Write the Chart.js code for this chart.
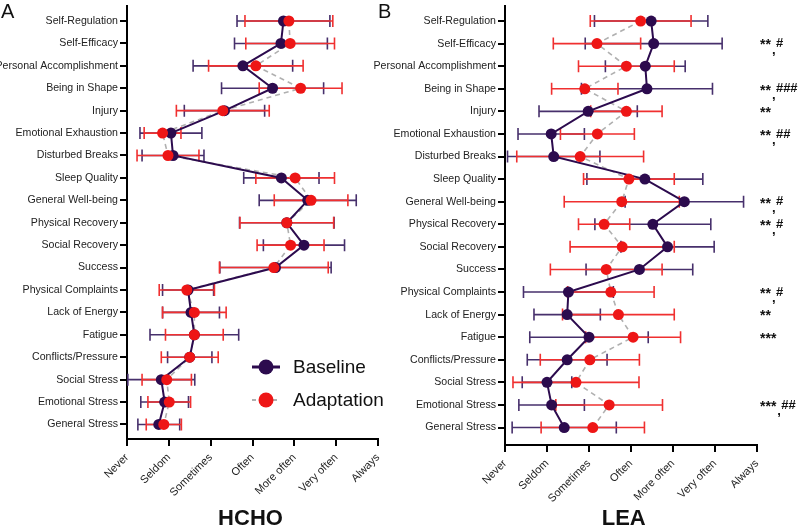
<!DOCTYPE html>
<html><head><meta charset="utf-8">
<script src="https://cdn.jsdelivr.net/npm/chart.js@4.4.1/dist/chart.umd.min.js"></script>
<style>
html,body{margin:0;padding:0;background:#fff;}
#wrap{position:relative;width:800px;height:528px;overflow:hidden;background:#fff;}
#cA{position:absolute;left:0;top:0;}
#cB{position:absolute;left:370px;top:0;}
</style></head><body>
<div id="wrap"><canvas id="cA" width="400" height="528"></canvas><canvas id="cB" width="430" height="528"></canvas></div>
<script>
// ---- data ----
const categories = ["Self-Regulation","Self-Efficacy","Personal Accomplishment","Being in Shape","Injury","Emotional Exhaustion","Disturbed Breaks","Sleep Quality","General Well-being","Physical Recovery","Social Recovery","Success","Physical Complaints","Lack of Energy","Fatigue","Conflicts/Pressure","Social Stress","Emotional Stress","General Stress"];
const frequencyLabels = ["Never","Seldom","Sometimes","Often","More often","Very often","Always"];

const hchoBaselineMean = [3.74,3.68,2.77,3.48,2.33,1.05,1.10,3.69,4.32,3.82,4.23,3.55,1.46,1.53,1.61,1.50,0.82,0.90,0.76];
const hchoBaselineSD   = [1.11,1.11,1.19,1.22,0.96,0.74,0.74,0.90,1.16,1.13,0.97,1.33,0.61,0.68,1.06,0.53,0.80,0.57,0.50];
const hchoAdaptMean    = [3.87,3.90,3.08,4.15,2.29,0.85,0.98,4.02,4.40,3.82,3.91,3.51,1.43,1.61,1.61,1.50,0.95,1.01,0.88];
const hchoAdaptSD      = [1.05,1.06,1.13,0.99,1.11,0.44,0.74,0.94,0.88,1.12,0.80,1.30,0.66,0.76,0.69,0.68,0.59,0.51,0.42];

const leaBaselineMean  = [3.48,3.54,3.34,3.38,1.98,1.10,1.16,3.33,4.27,3.52,3.87,3.20,1.51,1.48,2.00,1.48,1.00,1.11,1.41];
const leaBaselineSD    = [1.35,1.63,0.95,1.56,1.17,0.79,1.10,1.38,1.41,1.38,1.11,1.27,1.07,0.79,1.41,0.95,0.59,0.78,1.24];
const leaAdaptMean     = [3.23,2.19,2.89,1.90,2.89,2.20,1.79,2.95,2.78,2.36,2.79,2.41,2.52,2.70,3.05,2.02,1.69,2.48,2.09];
const leaAdaptSD       = [1.20,1.04,1.14,0.79,0.85,0.88,1.51,1.08,1.37,0.61,1.24,1.33,1.03,1.33,1.13,1.18,1.50,1.27,1.23];

const leaStars  = ["","**","","**","**","**","","","**","**","","","**","**","***","","","***",""];
const leaHashes = ["","#","","###","","##","","","#","#","","","#","","","","","##",""];

const seriesNames = ["Baseline","Adaptation"];

// ---- style ----
const FONT = "Arial, 'Liberation Sans', Helvetica, sans-serif";
const PURPLE = '#2c0b4e';
const PURPLE_BAR = '#47306c';
const RED = '#ee1616';
const RED_BAR = '#f03030';
const GREY = '#b0b0b0';

function pts(arr){ return arr.map((v,i)=>({x:v, y:i})); }

function buildChart(id, cfg){
  const errorBars = {
    id:'errorBars',
    beforeDatasetsDraw(chart){
      const {ctx, scales:{x,y}} = chart;
      const groups = [[cfg.bMean, cfg.bSD, PURPLE_BAR],[cfg.aMean, cfg.aSD, RED_BAR]];
      ctx.save();
      ctx.lineWidth = 1.6;
      groups.forEach(([m,s,col])=>{
        ctx.strokeStyle = col;
        m.forEach((v,i)=>{
          const py = y.getPixelForValue(i);
          const x1 = x.getPixelForValue(v - s[i]);
          const x2 = x.getPixelForValue(v + s[i]);
          ctx.beginPath();
          ctx.moveTo(x1,py); ctx.lineTo(x2,py);
          ctx.moveTo(x1,py-6); ctx.lineTo(x1,py+6);
          ctx.moveTo(x2,py-6); ctx.lineTo(x2,py+6);
          ctx.stroke();
        });
      });
      ctx.restore();
    }
  };
  const decor = {
    id:'decor',
    afterDraw(chart){
      const {ctx, scales:{y}} = chart;
      ctx.save();
      ctx.fillStyle = '#111';
      ctx.font = `20px ${FONT}`;
      ctx.textAlign = 'left'; ctx.textBaseline = 'alphabetic';
      ctx.fillText(cfg.letter, cfg.letterX, 18);
      ctx.font = `bold 22px ${FONT}`;
      ctx.textAlign = 'center'; ctx.textBaseline = 'middle';
      ctx.fillText(cfg.title, cfg.titleX, 519);
      if (cfg.legend){
        const rows = [[367, PURPLE, PURPLE, []],[400, GREY, RED, [4,3]]];
        rows.forEach(([ry, lc, dc, dash], k)=>{
          ctx.strokeStyle = lc; ctx.lineWidth = k===0 ? 3 : 2;
          ctx.setLineDash(dash);
          ctx.beginPath(); ctx.moveTo(252, ry); ctx.lineTo(280, ry); ctx.stroke();
          ctx.setLineDash([]);
          ctx.fillStyle = dc;
          ctx.beginPath(); ctx.arc(266, ry, 7.5, 0, Math.PI*2); ctx.fill();
          ctx.fillStyle = '#111';
          ctx.font = `19px ${FONT}`;
          ctx.textAlign = 'left'; ctx.textBaseline = 'middle';
          ctx.fillText(seriesNames[k], 293, ry+1);
        });
      }
      if (cfg.stars){
        ctx.fillStyle = '#111';
        ctx.font = `bold 14px ${FONT}`;
        ctx.textAlign = 'left';
        cfg.stars.forEach((st,i)=>{
          if (!st) return;
          const py = y.getPixelForValue(i);
          ctx.textBaseline = 'middle';
          ctx.fillText(st, 390, py+2);
          const w = ctx.measureText(st).width;
          const h = cfg.hashes[i];
          if (h){
            ctx.font = `bold 13px ${FONT}`;
            ctx.fillText(h, 390 + w + 5, py);
            ctx.textBaseline = 'alphabetic';
            ctx.fillText(',', 390 + w + 1, py + 10);
            ctx.font = `bold 14px ${FONT}`;
          }
        });
      }
      ctx.restore();
    }
  };
  const axisCommon = {
    grid:{drawOnChartArea:false, drawTicks:true, tickLength:7, color:'#000', lineWidth:2},
    border:{display:true, color:'#000', width:2}
  };
  return new Chart(document.getElementById(id), {
    type:'scatter',
    data:{ datasets:[
      {label:'bl', data:pts(cfg.bMean), showLine:true, borderColor:PURPLE, borderWidth:2, pointRadius:0, order:3},
      {label:'al', data:pts(cfg.aMean), showLine:true, borderColor:GREY, borderWidth:1.6, borderDash:[5,4], pointRadius:0, order:4},
      {label:seriesNames[0], data:pts(cfg.bMean), showLine:false, pointRadius:5.5, pointBackgroundColor:PURPLE, pointBorderColor:PURPLE, pointBorderWidth:0, order:2},
      {label:seriesNames[1], data:pts(cfg.aMean), showLine:false, pointRadius:5.5, pointBackgroundColor:RED, pointBorderColor:RED, pointBorderWidth:0, order:1}
    ]},
    options:{
      responsive:false, animation:false, devicePixelRatio:1,
      layout:{padding:{left:0, top:0, bottom:0, right:cfg.padRight}},
      plugins:{legend:{display:false}, tooltip:{enabled:false}},
      scales:{
        x:{ type:'linear', min:0, max:6, ...axisCommon,
            ticks:{stepSize:1, autoSkip:false, maxRotation:45, minRotation:45, padding:5, color:'#222', font:{size:11, family:FONT},
                   callback:(v)=>frequencyLabels[Math.round(v)]},
            afterFit:(s)=>{ s.height = cfg.xAxisH; s.paddingLeft=0; s.paddingRight=0; } },
        y:{ type:'linear', reverse:true, min:cfg.yMin, max:cfg.yMax, ...axisCommon,
            afterBuildTicks:(s)=>{ s.ticks = categories.map((c,i)=>({value:i})); },
            ticks:{autoSkip:false, padding:2, color:'#222', font:{size:10.6, family:FONT},
                   callback:(v)=>categories[Math.round(v)]},
            afterFit:(s)=>{ s.width = cfg.yAxisW; s.paddingTop=0; s.paddingBottom=0; } }
      }
    },
    plugins:[errorBars, decor]
  });
}

buildChart('cA', {bMean:hchoBaselineMean, bSD:hchoBaselineSD, aMean:hchoAdaptMean, aSD:hchoAdaptSD,
  yAxisW:127, padRight:22, xAxisH:89, yMin:-0.692, yMax:18.648,
  letter:'A', letterX:1, title:'HCHO', titleX:250.5, legend:true});
buildChart('cB', {bMean:leaBaselineMean, bSD:leaBaselineSD, aMean:leaAdaptMean, aSD:leaAdaptSD,
  yAxisW:135, padRight:43, xAxisH:83, yMin:-0.687, yMax:18.774,
  letter:'B', letterX:8, title:'LEA', titleX:253.7, legend:false, stars:leaStars, hashes:leaHashes});
</script>
</body></html>
